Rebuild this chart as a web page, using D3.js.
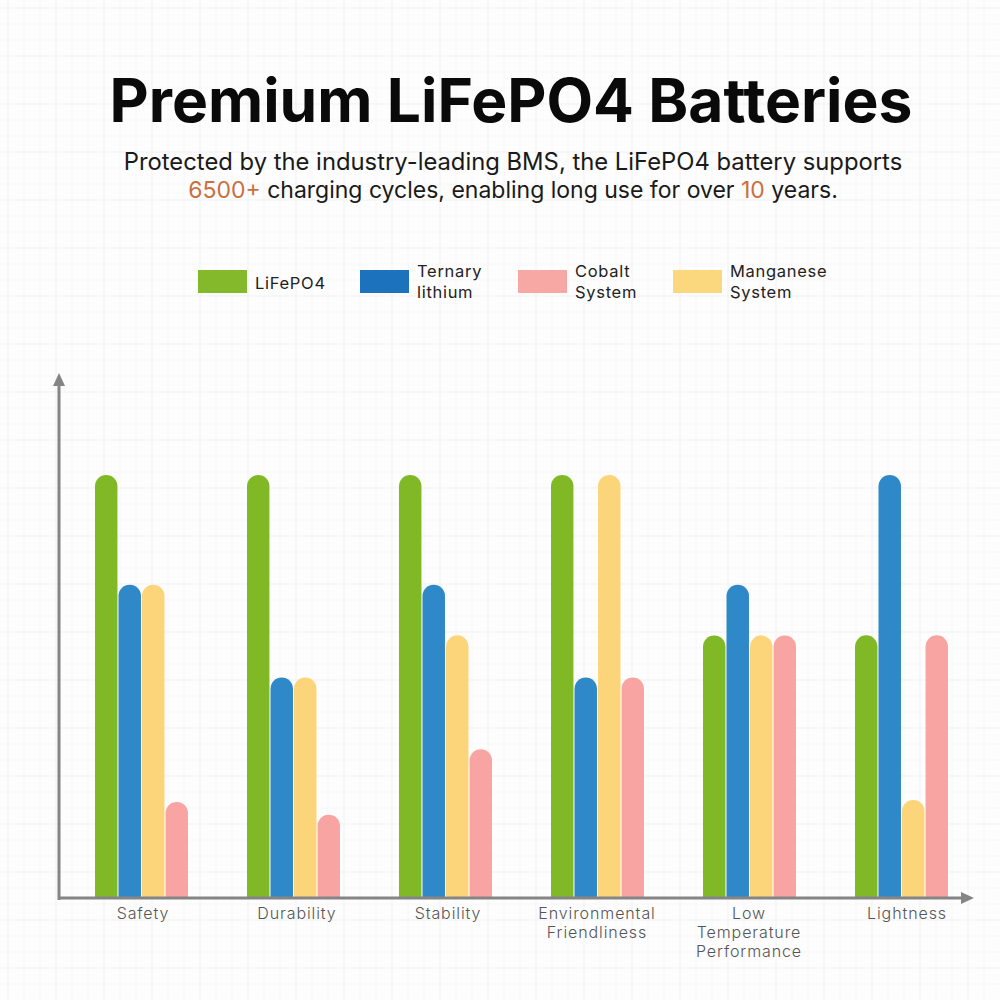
<!DOCTYPE html>
<html><head><meta charset="utf-8">
<script src="https://cdn.jsdelivr.net/npm/d3@7"></script>
<style>
html,body{margin:0;padding:0;background:#fdfdfd;}
svg{display:block;}
</style></head>
<body>
<svg id="chart" width="1000" height="1000"></svg>
<script>
// ---- data ----
const categories = ["Safety", "Durability", "Stability", "Environmental Friendliness", "Low Temperature Performance", "Lightness"];
const categoryLines = [["Safety"], ["Durability"], ["Stability"], ["Environmental", "Friendliness"], ["Low", "Temperature", "Performance"], ["Lightness"]];
const legendNames = ["LiFePO4", "Ternary lithium", "Cobalt System", "Manganese System"];
const legendLines = [["LiFePO4"], ["Ternary", "lithium"], ["Cobalt", "System"], ["Manganese", "System"]];
const barOrder = ["LiFePO4", "Ternary lithium", "Manganese System", "Cobalt System"];
const lifepo4 = [100, 100, 100, 100, 62, 62];
const ternary = [74, 52, 74, 52, 74, 100];
const manganese = [74, 52, 62, 100, 62, 23];
const cobalt = [22.5, 19.5, 35, 52, 62, 62];
const titleText = "Premium LiFePO4 Batteries";
const subLine1 = [["Protected by the industry-leading BMS, the LiFePO4 battery supports", false]];
const subLine2 = [["6500+", true], [" charging cycles, enabling long use for over ", false], ["10", true], [" years.", false]];

const seriesValues = {"LiFePO4": lifepo4, "Ternary lithium": ternary, "Cobalt System": cobalt, "Manganese System": manganese};
const barColors = {"LiFePO4": "#80b826", "Ternary lithium": "#2f89c9", "Cobalt System": "#f8a4a3", "Manganese System": "#fcd57b"};
const legendColors = {"LiFePO4": "#84b92b", "Ternary lithium": "#1c72bd", "Cobalt System": "#f7a8a5", "Manganese System": "#fbd77e"};

const svg = d3.select("#chart");
const W = 1000, H = 1000;
const FONT = "Inter, 'Open Sans', sans-serif";

// ---- background grid ----
const grid = svg.append("g");
grid.append("rect").attr("width", W).attr("height", H).attr("fill", "#fdfdfd");
const fine = d3.range(8, W, 16);
grid.selectAll("line.v").data(fine).join("line").attr("class","v")
  .attr("x1", d=>d).attr("x2", d=>d).attr("y1",0).attr("y2",H)
  .attr("stroke", d => (d-8)%48===0 ? "#f1f1f1" : "#f7f7f7").attr("stroke-width",1);
grid.selectAll("line.h").data(fine).join("line").attr("class","h")
  .attr("y1", d=>d).attr("y2", d=>d).attr("x1",0).attr("x2",W)
  .attr("stroke", d => (d-8)%48===0 ? "#f1f1f1" : "#f7f7f7").attr("stroke-width",1);

// ---- title ----
function fitText(sel, target) {
  const w = sel.node().getComputedTextLength();
  const fs = parseFloat(sel.attr("font-size"));
  sel.attr("font-size", fs * target / w);
}
const title = svg.append("text").attr("x", 511).attr("y", 122)
  .attr("text-anchor","middle").attr("font-family", FONT).attr("font-weight", 700)
  .attr("font-size", 52).attr("fill", "#0a0a0a").text(titleText);
fitText(title, 803);

function subLine(parts, y, target) {
  const t = svg.append("text").attr("x", 513).attr("y", y).attr("text-anchor","middle")
    .attr("font-family", FONT).attr("font-size", 21).attr("fill", "#1a1a1a");
  parts.forEach(p => t.append("tspan").attr("fill", p[1] ? "#c8703f" : "#1a1a1a").text(p[0]));
  fitText(t, target);
  return t;
}
subLine(subLine1, 170, 779);
subLine(subLine2, 198, 650);

// ---- legend ----
const legendX = [198, 360, 518, 673];
const legend = svg.append("g");
legendNames.forEach((name, i) => {
  const g = legend.append("g").attr("transform", `translate(${legendX[i]},0)`);
  g.append("rect").attr("x",0).attr("y",270).attr("width",49).attr("height",23).attr("fill", legendColors[name]);
  const lines = legendLines[i];
  const t = g.append("text").attr("font-family", FONT).attr("font-size", 16.5)
    .attr("letter-spacing", 0.7).attr("fill", "#222");
  if (lines.length === 1) {
    t.append("tspan").attr("x", 57).attr("y", 289).text(lines[0]);
  } else {
    lines.forEach((l, j) => t.append("tspan").attr("x", 57).attr("y", 277 + j*21).text(l));
  }
});

// ---- scales ----
const baseY = 897;
const x = d3.scaleBand().domain(categories).range([65, 977]).paddingInner(0).paddingOuter(0);
const xInner = d3.scaleBand().domain(barOrder).range([30, 123]).paddingInner(0.045);
const y = d3.scaleLinear().domain([0, 100]).range([baseY, 475]);

// ---- bars ----
const barData = [];
categories.forEach((c, ci) => barOrder.forEach(s => barData.push({cat: c, series: s, value: seriesValues[s][ci]})));
const bw = xInner.bandwidth();
const r = bw / 2;
svg.append("g").selectAll("path").data(barData).join("path")
  .attr("fill", d => barColors[d.series])
  .attr("d", d => {
    const x0 = x(d.cat) + xInner(d.series);
    const top = y(d.value);
    return `M${x0},${baseY} L${x0},${top + r} A${r},${r} 0 0 1 ${x0 + bw},${top + r} L${x0 + bw},${baseY} Z`;
  });

// ---- axes ----
const axisColor = "#858585";
const ax = svg.append("g");
ax.append("line").attr("x1", 59).attr("x2", 59).attr("y1", 900).attr("y2", 384)
  .attr("stroke", axisColor).attr("stroke-width", 3);
ax.append("path").attr("d", "M59,373 L53,386 L65,386 Z").attr("fill", axisColor);
ax.append("line").attr("x1", 60).attr("x2", 962).attr("y1", 898).attr("y2", 898)
  .attr("stroke", axisColor).attr("stroke-width", 3);
ax.append("path").attr("d", "M974,898 L961,892 L961,904 Z").attr("fill", axisColor);

// category labels via axis
const labelOffsets = [2, 4, 3, 0, 0, 6];
const xAxis = svg.append("g").attr("transform", `translate(0,${baseY})`)
  .call(d3.axisBottom(x).tickSize(0).tickPadding(0));
xAxis.select(".domain").remove();
xAxis.selectAll(".tick text").each(function(d) {
  const t = d3.select(this);
  const ci = categories.indexOf(d);
  t.text(null).attr("y", 0).attr("dy", null)
    .attr("font-family", FONT).attr("font-size", 16).attr("letter-spacing", 0.9)
    .attr("font-weight", 300).attr("fill", "#555").attr("text-anchor", "middle");
  categoryLines[ci].forEach((l, j) => t.append("tspan").attr("x", labelOffsets[ci]).attr("y", 22 + j * 19).text(l));
});
</script>
</body></html>
